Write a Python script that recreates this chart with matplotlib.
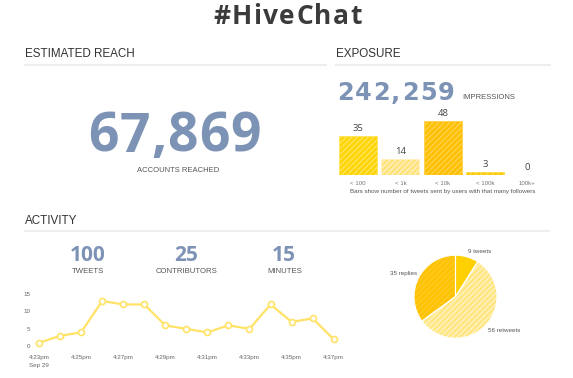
import matplotlib
matplotlib.use("Agg")
import matplotlib.pyplot as plt

# ---------------- data ----------------
title = "#HiveChat"
reach_value = "67,869"
impressions_value = "242,259"
follower_bins = ["< 100", "< 1k", "< 10k", "< 100k", "100k+"]
tweets_per_bin = [35, 14, 48, 3, 0]
activity_values = ["100", "25", "15"]
activity_labels = ["TWEETS", "CONTRIBUTORS", "MINUTES"]
minute_labels = ["4:23pm\nSep 29", "4:24pm", "4:25pm", "4:26pm", "4:27pm", "4:28pm",
                 "4:29pm", "4:30pm", "4:31pm", "4:32pm", "4:33pm", "4:34pm",
                 "4:35pm", "4:36pm", "4:37pm"]
tweets_per_minute = [1, 3, 4, 13, 12, 12, 6, 5, 4, 6, 5, 12, 7, 8, 2]
pie_labels = ["9 tweets", "56 retweets", "35 replies"]
pie_values = [9, 56, 35]

# ---------------- layout helpers ----------------
W, H = 573, 378
fig = plt.figure(figsize=(W / 100, H / 100), dpi=100)
fig.patch.set_facecolor("white")
renderer = fig.canvas.get_renderer()

def fx(x):
    return x / W

def fy(y):
    return 1 - y / H

def axes_px(left, top, right, bottom):
    return fig.add_axes([fx(left), fy(bottom), (right - left) / W, (bottom - top) / H])

SANS = ["Liberation Sans", "DejaVu Sans"]
BIG = ["Open Sans", "DejaVu Sans"]
NUM_COLOR = "#7d93b6"

def tracked(x, baseline, s, size, target_w, align="left", **kw):
    objs, widths = [], []
    for ch in s:
        t = fig.text(0, 0, ch, fontsize=size, ha="left", va="baseline", **kw)
        widths.append(t.get_window_extent(renderer).width)
        objs.append(t)
    gap = (target_w - sum(widths)) / max(len(s) - 1, 1)
    x0 = x - target_w / 2 if align == "center" else x
    for t, w in zip(objs, widths):
        t.set_position((fx(x0), fy(baseline)))
        x0 += w + gap

def rule(x0, x1, y):
    fig.add_artist(plt.Line2D([fx(x0), fx(x1)], [fy(y), fy(y)], color="#eeeeee",
                              lw=1.5, transform=fig.transFigure))

# ---------------- title & headers ----------------
tracked(287.5, 24, title, 19, 149, align="center", family=BIG, weight="bold", color="#3b3b3b")

fig.text(fx(25), fy(57.3), "ESTIMATED REACH", fontsize=8.4, family=SANS, color="#333333",
         ha="left", va="baseline")
rule(25, 326, 64.5)
fig.text(fx(336), fy(57.3), "EXPOSURE", fontsize=8.4, family=SANS, color="#333333",
         ha="left", va="baseline")
rule(336, 550, 64.5)
fig.text(fx(25), fy(224.3), "ACTIVITY", fontsize=8.4, family=SANS, color="#333333",
         ha="left", va="baseline")
rule(25, 549, 231)

# ---------------- estimated reach ----------------
tracked(174.5, 151.5, reach_value, 38.5, 173, align="center", family=BIG, weight="bold",
        color=NUM_COLOR)
fig.text(fx(178.3), fy(171.5), "ACCOUNTS REACHED", fontsize=5.5, family=SANS,
         color="#555555", ha="center", va="baseline")

# ---------------- exposure ----------------
tracked(336.7, 100.5, impressions_value, 17.3, 118, family="DejaVu Sans", weight="bold",
        color=NUM_COLOR)
fig.text(fx(462), fy(99.3), "IMPRESSIONS", fontsize=5.5, family=SANS, color="#555555",
         ha="left", va="baseline")

axb = axes_px(337.0, 121, 548.5, 175)
xs = list(range(len(follower_bins)))
bar_face = ["#ffd400", "#ffe27a", "#ffbf00", "#ffc800", "#ffd400"]
bar_hatch = ["#ffe55c", "#fff1bf", "#ffd24a", "#ffdb4d", "#ffe55c"]
for i, v in enumerate(tweets_per_bin):
    axb.bar(xs[i], v, width=0.9, color=bar_face[i], edgecolor=bar_hatch[i],
            hatch="//////", linewidth=0.6)
    axb.text(xs[i], v + 2.5, str(v), ha="center", va="bottom", fontsize=6.8, family=BIG,
             color="#444444")
axb.set_xlim(-0.5, 4.5)
axb.set_ylim(0, 48)
axb.set_xticks(xs)
axb.set_xticklabels(follower_bins, fontsize=4.4, family=SANS, color="#777777")
axb.tick_params(axis="x", length=0, pad=4)
axb.set_yticks([])
for sp in axb.spines.values():
    sp.set_visible(False)
axb.patch.set_alpha(0)
fig.text(fx(442.5), fy(192.8), "Bars show number of tweets sent by users with that many followers",
         fontsize=4.5, family=SANS, color="#555555", ha="center", va="baseline")

# ---------------- activity numbers ----------------
centers = [87.8, 186, 284]
for cx, val, lab in zip(centers, activity_values, activity_labels):
    fig.text(fx(cx), fy(260.7), val, fontsize=15, family=BIG, weight="bold", color=NUM_COLOR,
             ha="center", va="baseline")
    fig.text(fx(cx + 0.5), fy(273.4), lab, fontsize=5.6, family=SANS, color="#555555",
             ha="center", va="baseline")

# ---------------- line chart ----------------
px_per_x = (333.7 - 39) / 14
px_per_y = (346.3 - 294) / 15
axl = axes_px(39 - 0.2 * px_per_x, 294 - 1 * px_per_y, 333.7 + 0.2 * px_per_x, 346.3 + 1 * px_per_y)
mx = list(range(len(tweets_per_minute)))
axl.plot(mx, tweets_per_minute, color="#ffe266", lw=1.6, marker="o", markersize=4.3,
         markerfacecolor="white", markeredgecolor="#ffe266", markeredgewidth=1.2,
         clip_on=False, zorder=3)
axl.set_xlim(-0.2, 14.2)
axl.set_ylim(-1, 16)
axl.set_yticks([0, 5, 10, 15])
axl.set_yticklabels(["0", "5", "10", "15"], fontsize=4.5, family=SANS, color="#666666")
tick_idx = mx[::2]
axl.set_xticks(tick_idx)
axl.set_xticklabels([minute_labels[i] for i in tick_idx], fontsize=4.5, family=SANS,
                    color="#666666", linespacing=1.6)
axl.tick_params(axis="both", length=0)
axl.tick_params(axis="x", pad=4)
axl.tick_params(axis="y", pad=3)
for lbl in axl.get_xticklabels():
    lbl.set_multialignment("left")
for sp in axl.spines.values():
    sp.set_visible(False)
axl.patch.set_alpha(0)

# ---------------- pie ----------------
r = 41.5
axp = axes_px(455.5 - r, 296.7 - r, 455.5 + r, 296.7 + r)
pie_face = ["#ffd000", "#ffe680", "#ffc200"]
pie_hatch = ["#ffd000", "#fff3c4", "#ffca26"]
wedges, _ = axp.pie(pie_values, startangle=90, counterclock=False, radius=1.0)
for w, fc, hc in zip(wedges, pie_face, pie_hatch):
    w.set_facecolor(fc)
    w.set_edgecolor(hc)
    w.set_linewidth(0)
    if fc != "#ffd000":
        w.set_hatch("//////")
w2, _ = axp.pie(pie_values, startangle=90, counterclock=False, radius=1.0,
                wedgeprops=dict(facecolor="none", edgecolor="white", linewidth=0.8))
axp.set_xlim(-1, 1)
axp.set_ylim(-1, 1)
axp.set_aspect("equal")
axp.axis("off")

fig.text(fx(467.7), fy(251.7), pie_labels[0], fontsize=4.5, family=SANS, color="#555555",
         ha="left", va="center")
fig.text(fx(487.7), fy(330), pie_labels[1], fontsize=4.5, family=SANS, color="#555555",
         ha="left", va="center")
fig.text(fx(416.7), fy(273.3), pie_labels[2], fontsize=4.5, family=SANS, color="#555555",
         ha="right", va="center")

fig.savefig("out.png", dpi=100, facecolor="white")
